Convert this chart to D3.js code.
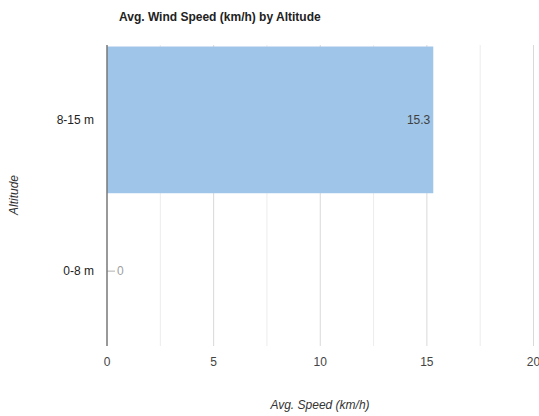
<!DOCTYPE html>
<html><head><meta charset="utf-8">
<script src="https://cdn.jsdelivr.net/npm/d3@7"></script>
<style>body{margin:0;background:#fff;font-family:"Liberation Sans",Arial,sans-serif;}</style>
</head><body><svg id="c" width="539" height="416"></svg>
<script>
const categories = ["8-15 m", "0-8 m"];
const values = [15.3, 0];
const xTicks = [0, 5, 10, 15, 20];
const xMinor = [2.5, 7.5, 12.5, 17.5];
const title = "Avg. Wind Speed (km/h) by Altitude";
const xTitle = "Avg. Speed (km/h)";
const yTitle = "Altitude";

const svg = d3.select("#c");
const m = {l:107, r:5, t:45, b:70};
const W = 539, H = 416;
const x = d3.scaleLinear().domain([0,20]).range([m.l, 533.5]);
const y = d3.scaleBand().domain(categories).range([m.t, H - m.b]).paddingInner(0.03).paddingOuter(0.01);

// grid
svg.append("g").selectAll("line").data(xMinor).join("line")
  .attr("x1", d=>x(d)).attr("x2", d=>x(d)).attr("y1", m.t).attr("y2", H-m.b)
  .attr("stroke", "#ececec").attr("stroke-width", 1);
svg.append("g").selectAll("line").data(xTicks.filter(d=>d>0)).join("line")
  .attr("x1", d=>x(d)).attr("x2", d=>x(d)).attr("y1", m.t).attr("y2", H-m.b)
  .attr("stroke", "#d9d9d9").attr("stroke-width", 1);

// bars
svg.append("g").selectAll("rect").data(values).join("rect")
  .attr("x", x(0)).attr("y", (d,i)=>y(categories[i]))
  .attr("width", d=>x(d)-x(0)).attr("height", y.bandwidth())
  .attr("fill", "#9fc5e8");

// value labels
values.forEach((v,i)=>{
  const cy = y(categories[i]) + y.bandwidth()/2;
  if (v > 0) {
    svg.append("text").attr("x", x(v)-3).attr("y", cy).attr("dy","0.35em")
      .attr("text-anchor","end").attr("font-size",12).attr("fill","#404040").text(d3.format(".1f")(v));
  } else {
    svg.append("line").attr("x1", x(0)).attr("x2", x(0)+8).attr("y1", cy).attr("y2", cy)
      .attr("stroke","#b0b0b0");
    svg.append("text").attr("x", x(0)+10).attr("y", cy).attr("dy","0.35em")
      .attr("font-size",12).attr("fill","#a0a0a0").text(v);
  }
});

// y axis line
svg.append("line").attr("x1", x(0)).attr("x2", x(0)).attr("y1", m.t).attr("y2", H-m.b)
  .attr("stroke","#777").attr("stroke-width",1.5);

// y labels
svg.append("g").selectAll("text").data(categories).join("text")
  .attr("x", x(0)-13).attr("y", d=>y(d)+y.bandwidth()/2).attr("dy","0.35em")
  .attr("text-anchor","end").attr("font-size",12).attr("fill","#222").text(d=>d);

// x tick labels
svg.append("g").selectAll("text").data(xTicks).join("text")
  .attr("x", d=>x(d)).attr("y", H-m.b+16).attr("dy","0.35em")
  .attr("text-anchor","middle").attr("font-size",12).attr("fill","#444").text(d=>d);

// titles
svg.append("text").attr("x",119).attr("y",21).attr("font-size",12).attr("font-weight","bold").attr("fill","#222").text(title);
svg.append("text").attr("x",320).attr("y",409).attr("text-anchor","middle").attr("font-size",12)
  .attr("font-style","italic").attr("fill","#333").text(xTitle);
svg.append("text").attr("transform","translate(18,195) rotate(-90)").attr("text-anchor","middle")
  .attr("font-size",12).attr("font-style","italic").attr("fill","#333").text(yTitle);
</script></body></html>
